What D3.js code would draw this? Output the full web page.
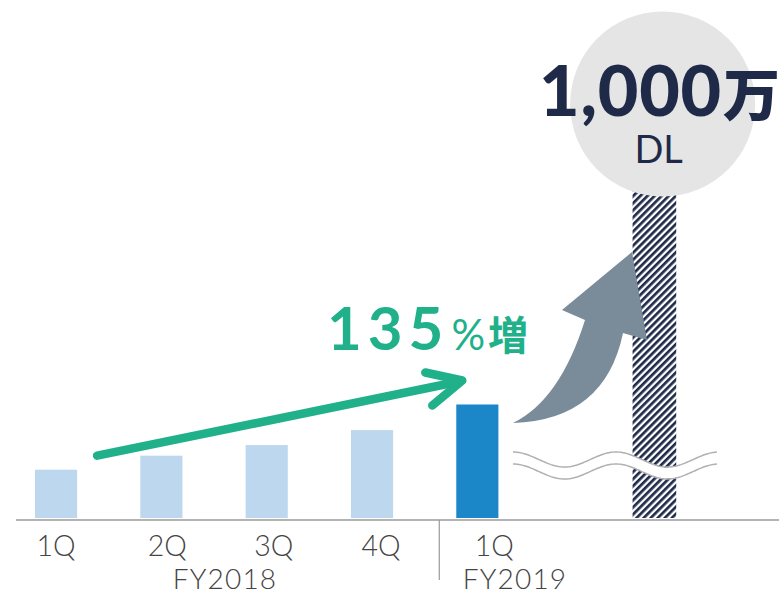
<!DOCTYPE html>
<html><head><meta charset="utf-8">
<script src="https://cdn.jsdelivr.net/npm/d3@7"></script>
<style>html,body{margin:0;padding:0;background:#fff;}svg{display:block;}</style>
</head><body>
<svg id="chart" width="779" height="595"></svg>
<script>
// ---- data ----
const categories = ["1Q", "2Q", "3Q", "4Q", "1Q"];
const fiscalYears = ["FY2018", "FY2019"];
const yearOfBar = ["FY2018", "FY2018", "FY2018", "FY2018", "FY2019"];
const values = [100, 129, 151, 182, 235];      // relative quarterly downloads
const totalLabel = "1,000";
const totalUnit = "万";
const totalSub = "DL";
const growthNumber = "135";
const growthPct = "%";
const growthWord = "増";

// ---- layout ----
const svg = d3.select("#chart");
const baseY = 520;
const barBottom = 518;
const ids = values.map((d, i) => i);

const x = d3.scaleBand().domain(ids).range([3.4, 530]).paddingInner(0.6).paddingOuter(0.3);
const y = d3.scaleLinear().domain([0, 100]).range([barBottom, 469.7]);
const step = x.step();
const totalX = x(4) + step * 1.674;      // broken "total" bar position
const bw = x.bandwidth();

const colLight = "#bdd7ee", colDark = "#1b87c9", navy = "#1f2a48", green = "#20b08a";

// hatch pattern
const defs = svg.append("defs");
const pat = defs.append("pattern").attr("id", "hatch").attr("patternUnits", "userSpaceOnUse")
  .attr("width", 5).attr("height", 5).attr("patternTransform", "rotate(45)");
pat.append("rect").attr("width", 5).attr("height", 5).attr("fill", "#fff");
pat.append("rect").attr("width", 2.7).attr("height", 5).attr("fill", navy);

// bars
svg.selectAll("rect.bar").data(values).join("rect").attr("class", "bar")
  .attr("x", (d, i) => x(i)).attr("width", bw)
  .attr("y", d => y(d)).attr("height", d => barBottom - y(d))
  .attr("fill", (d, i) => yearOfBar[i] === "FY2019" ? colDark : colLight);

// hatched total bar
svg.append("rect").attr("x", totalX).attr("width", bw + 1.5)
  .attr("y", 190).attr("height", barBottom - 190).attr("fill", "url(#hatch)");

// wavy break
const wave = (c) => d3.range(513, 717.5, 2).map(px => [px, c - 7.5 * Math.cos(2 * Math.PI * (px - 513) / 103)]);
const line = d3.line();
svg.append("path").attr("d", line(wave(465.5))).attr("fill", "none").attr("stroke", "#fff").attr("stroke-width", 11);
[459.5, 471.5].forEach(c => svg.append("path").attr("d", line(wave(c))).attr("fill", "none")
  .attr("stroke", "#b0b0b0").attr("stroke-width", 1.5));

// baseline + divider
svg.append("line").attr("x1", 16).attr("x2", 779).attr("y1", baseY).attr("y2", baseY)
  .attr("stroke", "#9a9a9a").attr("stroke-width", 1.5);
svg.append("line").attr("x1", x(4) - 17).attr("x2", x(4) - 17).attr("y1", baseY).attr("y2", 580)
  .attr("stroke", "#9a9a9a").attr("stroke-width", 1.2);

// axis labels
const labelFont = "Lato, 'Noto Sans', sans-serif";
const labelOffsets = [0, 6, 7, 9, 17];
svg.selectAll("text.cat").data(categories).join("text").attr("class", "cat")
  .attr("x", (d, i) => x(i) + bw / 2 + labelOffsets[i]).attr("y", 556)
  .attr("text-anchor", "middle").attr("font-family", labelFont).attr("font-weight", 300)
  .attr("font-size", 28.5).attr("fill", "#444").text(d => d);
const yearCenters = {
  FY2018: 225,
  FY2019: 515
};
svg.selectAll("text.fy").data(fiscalYears).join("text").attr("class", "fy")
  .attr("x", d => yearCenters[d]).attr("y", 589).attr("text-anchor", "middle")
  .attr("font-family", labelFont).attr("font-weight", 300).attr("font-size", 28)
  .attr("letter-spacing", 1.2).attr("fill", "#444").text(d => d);

// green arrow
const sx = x(0) + bw + 20, sy = y(values[0]) - 14;
const ex = x(4) + 6, ey = y(values[4]) - 24;
const gA = svg.append("g").attr("stroke", green).attr("stroke-width", 8.5)
  .attr("stroke-linecap", "round").attr("stroke-linejoin", "round").attr("fill", "none");
gA.append("line").attr("x1", sx).attr("y1", sy).attr("x2", ex - 3).attr("y2", ey + 1);
gA.append("polyline").attr("points", [[ex - 37, ey - 8], [ex, ey], [ex - 30, ey + 25]].join(" "));

// growth text
const gt = svg.append("text").attr("x", 327).attr("y", 350).attr("fill", green)
  .attr("font-family", "Lato, 'Noto Sans', sans-serif");
gt.append("tspan").attr("font-size", 60).attr("font-weight", 700).attr("letter-spacing", 6).text(growthNumber);
gt.append("tspan").attr("font-size", 42).attr("font-weight", 400).attr("dx", 2).text(growthPct);
gt.append("tspan").attr("font-size", 40).attr("font-weight", 700).attr("dx", 3)
  .attr("font-family", "'Noto Sans CJK JP', sans-serif").text(growthWord);

// gray curved arrow
const tail = [513, 423];
const p = d3.path();
p.moveTo(tail[0], tail[1]);
p.quadraticCurveTo(560, 400, 585, 320);
p.lineTo(562, 310);
p.lineTo(632, 252);
p.lineTo(647, 340);
p.lineTo(623, 333);
p.quadraticCurveTo(605, 420, tail[0], tail[1]);
p.closePath();
svg.append("path").attr("d", p.toString()).attr("fill", "#7a8b99");

// circle + totals
const cx = totalX + bw / 2 + 9;
svg.append("circle").attr("cx", cx).attr("cy", 104).attr("r", 92.5).attr("fill", "#e5e5e5");
const tt = svg.append("text").attr("x", 539).attr("y", 116).attr("fill", navy);
tt.append("tspan").attr("font-family", "Lato, sans-serif").attr("font-weight", 900)
  .attr("font-size", 70).attr("letter-spacing", 0.8).text(totalLabel);
tt.append("tspan").attr("font-family", "'Noto Sans CJK JP', sans-serif").attr("font-weight", 900)
  .attr("font-size", 57).attr("dx", 1).text(totalUnit);
svg.append("text").attr("x", cx - 4).attr("y", 163).attr("text-anchor", "middle").attr("fill", navy)
  .attr("font-family", "Lato, sans-serif").attr("font-weight", 400).attr("font-size", 38).text(totalSub);
</script>
</body></html>
